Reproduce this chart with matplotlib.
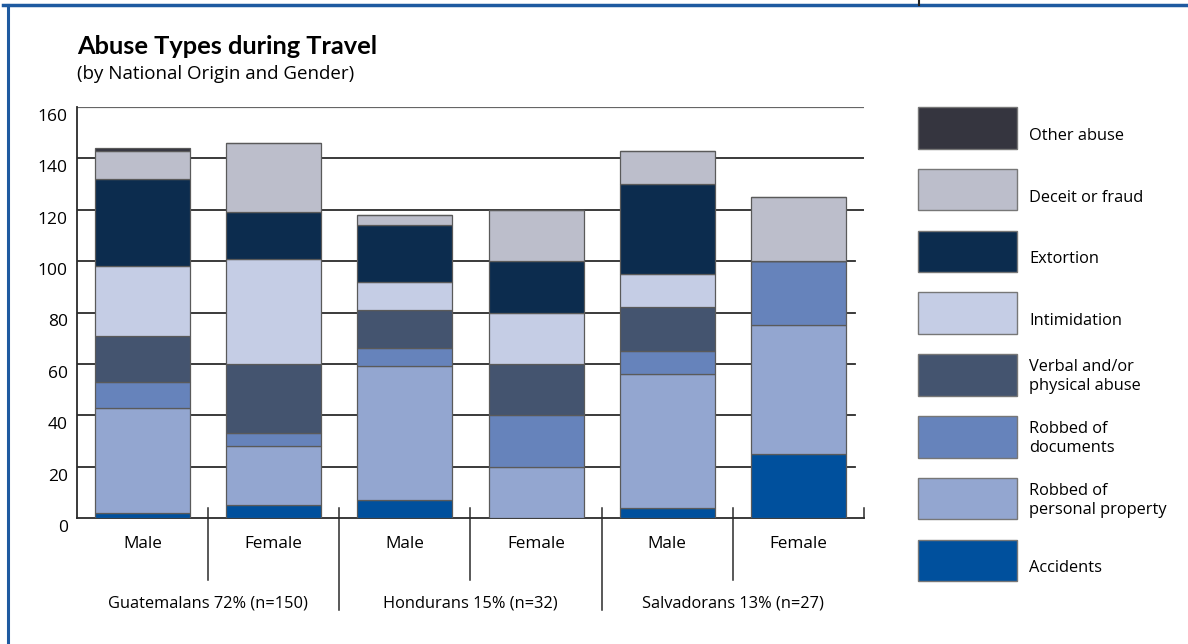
import matplotlib
matplotlib.use("Agg")
import matplotlib.pyplot as plt
import matplotlib.transforms as mtransforms
from matplotlib.patches import Rectangle
from matplotlib.lines import Line2D

# Data (counts per group)
groups = ["Male", "Female", "Male", "Female", "Male", "Female"]
countries = ["Guatemalans 72% (n=150)", "Hondurans 15% (n=32)", "Salvadorans 13% (n=27)"]

accidents = [2, 5, 7, 0, 4, 25]
robbed_property = [41, 23, 52, 20, 52, 50]
robbed_documents = [10, 5, 7, 20, 9, 25]
verbal_physical = [18, 27, 15, 20, 17, 0]
intimidation = [27, 41, 11, 20, 13, 0]
extortion = [34, 18, 22, 20, 35, 0]
deceit_fraud = [11, 27, 4, 20, 13, 25]
other_abuse = [1, 0, 0, 0, 0, 0]

series = [
    ("Accidents", accidents, "#00509D"),
    ("Robbed of\npersonal property", robbed_property, "#93A6D0"),
    ("Robbed of\ndocuments", robbed_documents, "#6683BB"),
    ("Verbal and/or\nphysical abuse", verbal_physical, "#44546F"),
    ("Intimidation", intimidation, "#C5CDE5"),
    ("Extortion", extortion, "#0C2C4E"),
    ("Deceit or fraud", deceit_fraud, "#BCBECB"),
    ("Other abuse", other_abuse, "#35353F"),
]

plt.rcParams["font.family"] = ["Open Sans", "DejaVu Sans"]

W, H = 1188, 644
fig = plt.figure(figsize=(W / 100, H / 100), dpi=100)


def px(x0, y0, x1, y1):
    # figure pixel box (top-left origin) -> axes rect
    return [x0 / W, 1 - y1 / H, (x1 - x0) / W, (y1 - y0) / H]


ax = fig.add_axes(px(77, 107, 864, 518))
x = list(range(len(groups)))

# 1. Gridlines first so the bars sit on top
for v in range(20, 160, 20):
    xmax = 1.0 if v >= 120 else 0.989
    ax.axhline(v, xmin=0, xmax=xmax, color="#2b2b2b", lw=1.3, zorder=1)
ax.axhline(160, color="#666666", lw=1.6, zorder=1)

# 2. Stacked bars
bottom = [0] * len(groups)
for name, vals, color in series:
    ax.bar(x, vals, bottom=bottom, width=0.725, color=color,
           edgecolor="#5a5a5a", linewidth=0.9, zorder=3)
    bottom = [b + v for b, v in zip(bottom, vals)]

ax.set_xlim(-0.5, 5.5)
ax.set_ylim(0, 160)
ax.set_yticks(range(0, 161, 20))
ax.set_yticklabels([])
ax.set_xticks([])
for s in ["top", "right"]:
    ax.spines[s].set_visible(False)
ax.spines["left"].set_color("#2b2b2b")
ax.spines["bottom"].set_color("#2b2b2b")
ax.spines["left"].set_linewidth(1.3)
ax.spines["bottom"].set_linewidth(1.3)
ax.tick_params(axis="y", length=0)

# y labels sit a bit below their lines in the original
for v in range(0, 161, 20):
    ax.text(-0.57, v, str(v), ha="right", va="center", fontsize=12.5,
            transform=ax.transData + mtransforms.ScaledTranslation(0, -10 / 100, fig.dpi_scale_trans),
            clip_on=False)

# 3. Category labels and separators below the axis
trans = mtransforms.blended_transform_factory(ax.transData, ax.transAxes)
for i, g in enumerate(groups):
    ax.text(i, -0.064, g, ha="center", va="center", fontsize=12.3, transform=trans)
for j, c in enumerate(countries):
    ax.text(2 * j + 0.5, -0.207, c, ha="center", va="center", fontsize=11.8, transform=trans)
for sx in [0.5, 2.5, 4.5]:
    ax.add_line(Line2D([sx, sx], [0.024, -0.151], color="#2b2b2b", lw=1.1,
                       transform=trans, clip_on=False))
for sx in [1.5, 3.5]:
    ax.add_line(Line2D([sx, sx], [0.024, -0.224], color="#2b2b2b", lw=1.1,
                       transform=trans, clip_on=False))
ax.add_line(Line2D([5.5, 5.5], [0.024, 0], color="#2b2b2b", lw=1.1,
                   transform=trans, clip_on=False))

# 4. Legend drawn by hand, top to bottom
for i, (name, vals, color) in enumerate(reversed(series)):
    top = 107 + i * 61.8
    fig.patches.append(Rectangle(((918) / W, 1 - (top + 41.5) / H), 99 / W, 41.5 / H,
                                 transform=fig.transFigure, facecolor=color,
                                 edgecolor="#777777", lw=1.0))
    cy = top + 20.75 + (2 if "\n" in name else 8)
    fig.text(1029 / W, 1 - cy / H, name, ha="left", va="center", fontsize=11.8,
             linespacing=1.25)

# 5. Titles
fig.text(77 / W, 1 - 54 / H, "Abuse Types during Travel", ha="left", va="baseline",
         fontsize=18.3, fontweight="bold", family=["Lato", "DejaVu Sans"])
fig.text(77 / W, 1 - 79 / H, "(by National Origin and Gender)", ha="left", va="baseline",
         fontsize=13.5)

# 6. Frame pieces
fig.add_artist(Line2D([3 / W, 1], [1 - 5 / H, 1 - 5 / H], color="#1E5AA0", lw=2.5,
                      transform=fig.transFigure))
fig.add_artist(Line2D([8 / W, 8 / W], [1 - 5 / H, 0], color="#1E5AA0", lw=2.2,
                      transform=fig.transFigure))
fig.add_artist(Line2D([919 / W, 919 / W], [1, 1 - 5 / H], color="#222222", lw=1.5,
                      transform=fig.transFigure))

fig.savefig("out.png", dpi=100)
